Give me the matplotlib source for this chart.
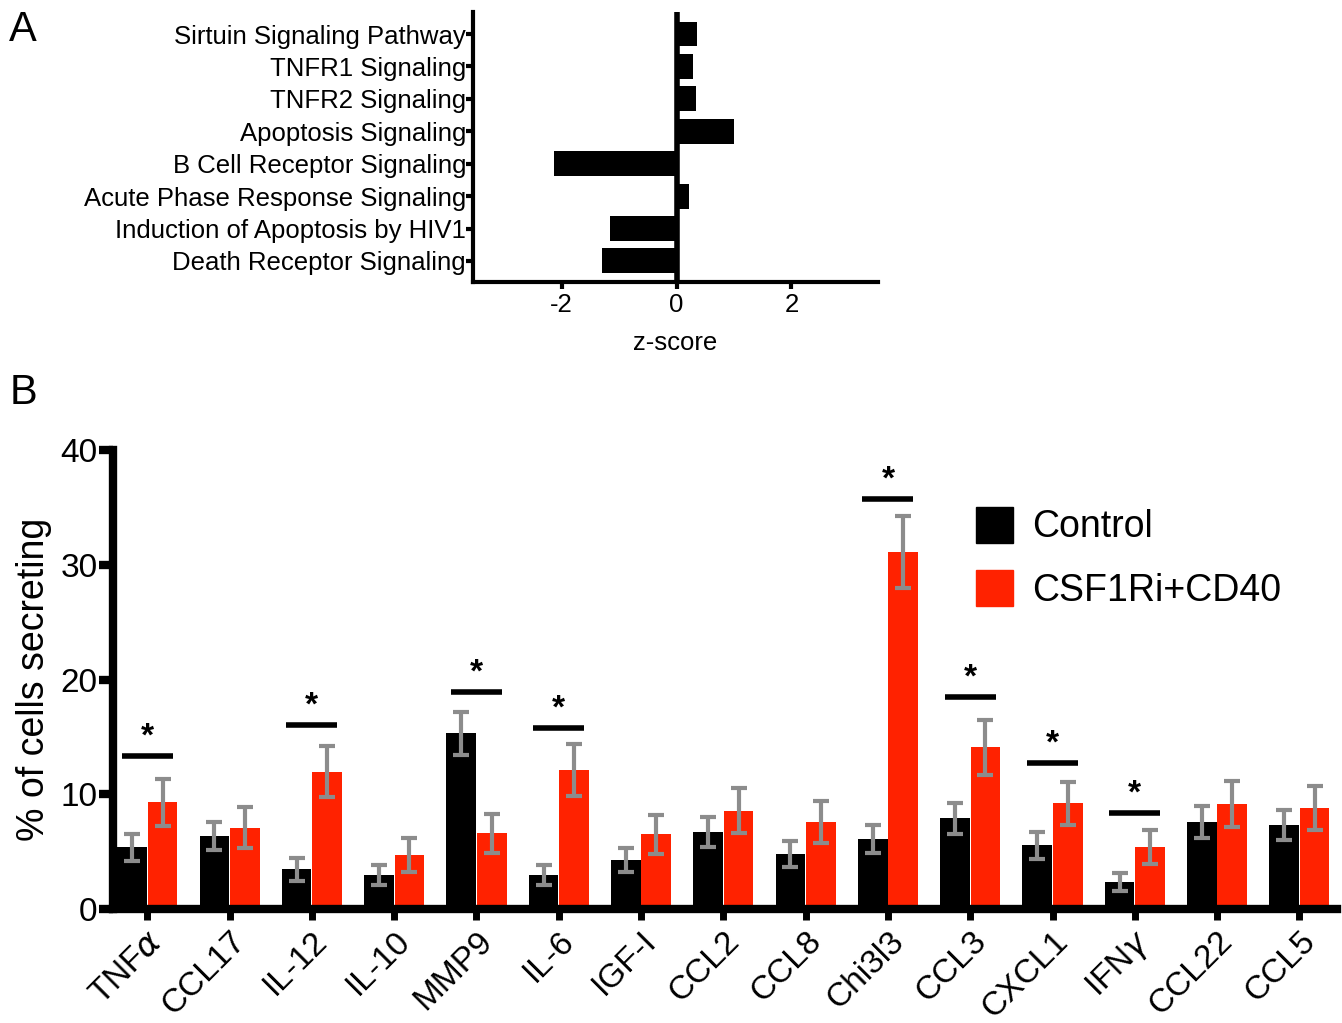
import matplotlib.pyplot as plt
import numpy as np
from matplotlib.patches import Patch
from matplotlib.transforms import ScaledTranslation

plt.rcParams['font.family'] = ['Liberation Sans', 'DejaVu Sans']

# Panel A: pathway z-scores (bottom to top)
pathways = ['Death Receptor Signaling', 'Induction of Apoptosis by HIV1',
            'Acute Phase Response Signaling', 'B Cell Receptor Signaling',
            'Apoptosis Signaling', 'TNFR2 Signaling', 'TNFR1 Signaling',
            'Sirtuin Signaling Pathway']
zscores = [-1.29, -1.16, 0.21, -2.14, 1.0, 0.335, 0.28, 0.36]

# Panel B: % of cells secreting
cytokines = [r'TNF$\alpha$', 'CCL17', 'IL-12', 'IL-10', 'MMP9', 'IL-6', 'IGF-I',
             'CCL2', 'CCL8', 'Chi3l3', 'CCL3', 'CXCL1', r'IFN$\gamma$', 'CCL22',
             'CCL5']
control = [5.37, 6.36, 3.46, 2.96, 15.3, 2.96, 4.27, 6.68, 4.76, 6.1, 7.9,
           5.55, 2.38, 7.6, 7.29]
control_err = [1.2, 1.25, 1.0, 0.85, 1.85, 0.85, 1.05, 1.3, 1.13, 1.25, 1.35,
               1.2, 0.77, 1.4, 1.3]
treated = [9.3, 7.09, 11.97, 4.7, 6.6, 12.1, 6.5, 8.56, 7.58, 31.14, 14.1,
           9.2, 5.43, 9.15, 8.8]
treated_err = [2.05, 1.8, 2.2, 1.5, 1.7, 2.25, 1.7, 1.95, 1.8, 3.15, 2.4,
               1.9, 1.5, 2.0, 1.95]
# significance brackets: group index -> bracket height
sig_idx = [0, 2, 4, 5, 9, 10, 11, 12]
sig_y = [13.3, 16.0, 18.9, 15.75, 35.7, 18.5, 12.75, 8.4]

RED = '#ff2200'
GREY = '#8c8c8c'

fig = plt.figure(figsize=(13.42, 10.23), dpi=100)

# ---- Panel A ----
axA = fig.add_axes([0.3525, 0.7243, 0.3015, 0.264])
ya = np.arange(len(pathways))
axA.barh(ya, zscores, height=0.77, color='black')
axA.axvline(0, color='black', lw=4, zorder=0)
axA.set_xlim(-3.54, 3.5)
axA.set_ylim(-0.65, len(pathways) - 1 + 0.68)
axA.set_yticks(ya)
axA.set_yticklabels(pathways, fontsize=18.5)
axA.set_xticks([-2, 0, 2])
axA.set_xticklabels(['-2', '0', '2'], fontsize=18.5)
axA.set_xlabel('z-score', fontsize=18.5, labelpad=10)
for s in ['top', 'right']:
    axA.spines[s].set_visible(False)
for s in ['left', 'bottom']:
    axA.spines[s].set_linewidth(3)
axA.tick_params(axis='y', width=3, length=5, pad=0)
axA.tick_params(axis='x', width=3, length=5, pad=3)
fig.text(0.007, 0.96, 'A', fontsize=30)

# ---- Panel B ----
axB = fig.add_axes([0.0842, 0.1114, 0.912, 0.4487])
x = np.arange(len(cytokines))
w = 0.36
d = 0.185
axB.bar(x - d, control, width=w, color='black', label='Control')
axB.bar(x + d, treated, width=w, color=RED, label='CSF1Ri+CD40')
axB.errorbar(x - d, control, yerr=control_err, fmt='none', ecolor=GREY,
             elinewidth=3, capsize=6, capthick=3)
axB.errorbar(x + d, treated, yerr=treated_err, fmt='none', ecolor=GREY,
             elinewidth=3, capsize=6, capthick=3)
for i, h in zip(sig_idx, sig_y):
    axB.plot([i - 0.31, i + 0.31], [h, h], color='black', lw=4,
             solid_capstyle='butt')
    axB.text(i, h + 0.3, '*', ha='center', va='bottom', fontsize=24,
             fontweight='bold')

axB.set_xlim(-0.417, 14.456)
axB.set_ylim(0, 40)
axB.set_yticks([0, 10, 20, 30, 40])
axB.set_yticklabels(['0', '10', '20', '30', '40'], fontsize=24)
axB.set_xticks(x)
axB.set_xticklabels(cytokines, fontsize=24, rotation=45, ha='right',
                    rotation_mode='anchor')
off = ScaledTranslation(7 / 72, 0, fig.dpi_scale_trans)
for lab in axB.get_xticklabels():
    lab.set_transform(lab.get_transform() + off)
axB.set_ylabel('% of cells secreting', fontsize=27, labelpad=6)
for s in ['top', 'right']:
    axB.spines[s].set_visible(False)
for s in ['left', 'bottom']:
    axB.spines[s].set_linewidth(6)
axB.tick_params(axis='y', width=6, length=10, pad=1)
axB.tick_params(axis='x', width=5, length=8, pad=4)

handles = [Patch(color='black'), Patch(color=RED)]
axB.legend(handles, ['Control', 'CSF1Ri+CD40'], loc='upper left',
           bbox_to_anchor=(0.6775, 0.95), frameon=False, fontsize=27,
           handlelength=1.0, handleheight=1.1, handletextpad=0.5,
           labelspacing=0.66)
fig.text(0.007, 0.605, 'B', fontsize=30)

fig.savefig('out.png', dpi=100)
